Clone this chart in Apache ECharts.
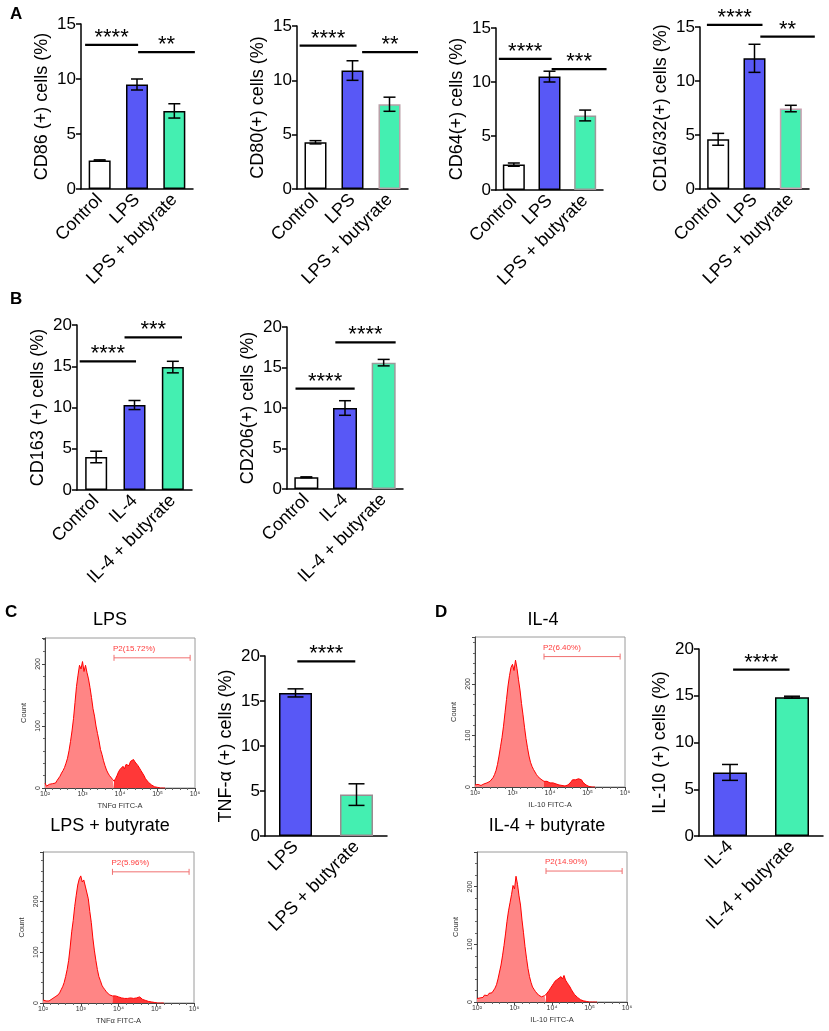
<!DOCTYPE html>
<html>
<head>
<meta charset="utf-8">
<script src="https://cdn.jsdelivr.net/npm/echarts@6/dist/echarts.min.js"></script>
<style>
  html, body { margin: 0; padding: 0; background: #fff; }
  #main { width: 829px; height: 1031px; }
</style>
</head>
<body>
<div id="main"></div>
<script>
// groups
var lpsGroups = ['Control', 'LPS', 'LPS + butyrate'];
var il4Groups = ['Control', 'IL-4', 'IL-4 + butyrate'];
var tnfGroups = ['LPS', 'LPS + butyrate'];
var il10Groups = ['IL-4', 'IL-4 + butyrate'];

// bar means and error (SEM)
var cd86Mean = [2.6, 9.5, 7.1];      var cd86Err = [0.05, 0.5, 0.65];
var cd80Mean = [4.3, 10.9, 7.8];     var cd80Err = [0.15, 0.9, 0.65];
var cd64Mean = [2.35, 10.5, 6.9];    var cd64Err = [0.15, 0.5, 0.5];
var cd1632Mean = [4.6, 12.1, 7.45];  var cd1632Err = [0.55, 1.3, 0.3];
var cd163Mean = [4.0, 10.3, 14.9];   var cd163Err = [0.7, 0.55, 0.7];
var cd206Mean = [1.45, 10.0, 15.6];  var cd206Err = [0.05, 0.9, 0.4];
var tnfMean = [15.9, 4.6];           var tnfErr = [0.45, 1.2];
var il10Mean = [6.8, 14.85];         var il10Err = [0.85, 0.1];

// significance bars: [from, to (category units), height, stars]
var cd86Sig = [[-0.39, 1.03, 13.1, '****'], [1.03, 2.55, 12.45, '**']];
var cd80Sig = [[-0.43, 1.11, 13.2, '****'], [1.26, 2.77, 12.6, '**']];
var cd64Sig = [[-0.42, 1.06, 12.15, '****'], [1.06, 2.6, 11.2, '***']];
var cd1632Sig = [[-0.31, 1.22, 15.2, '****'], [1.16, 2.66, 14.1, '**']];
var cd163Sig = [[-0.43, 1.04, 15.6, '****'], [0.74, 2.24, 18.5, '***']];
var cd206Sig = [[-0.28, 1.25, 12.4, '****'], [0.75, 2.31, 18.1, '****']];
var tnfSig = [[0.03, 0.98, 19.4, '****']];
var il10Sig = [[0.05, 0.96, 17.8, '****']];

// flow histograms: counts per bin, bins start at 10^2, step 0.04 decade
var HIST_START = 2, HIST_STEP = 0.04;
var GATE_LO = 3.84, GATE_HI = 5.87;
var histLps = [
  8, 3, 4, 6, 4, 7, 9, 8, 12, 15,
  19, 24, 28, 33, 40, 48, 60, 75, 92, 112,
  138, 164, 182, 198, 192, 204, 188, 198, 186, 176,
  162, 146, 128, 116, 100, 88, 76, 62, 54, 44,
  36, 29, 24, 20, 17, 14, 11, 15, 20, 26,
  30, 33, 35, 31, 38, 40, 36, 43, 40, 46,
  42, 44, 36, 32, 28, 24, 20, 15, 12, 9,
  6, 5, 3, 2, 2, 1, 1, 0, 0, 0,
  0];
var histLpsBut = [
  6, 3, 4, 5, 4, 6, 8, 10, 12, 14,
  16, 20, 26, 32, 40, 52, 66, 84, 110, 140,
  162, 190, 212, 232, 244, 250, 238, 242, 230, 228,
  205, 180, 158, 128, 104, 84, 66, 52, 44, 35,
  30, 26, 22, 20, 16, 18, 14, 12, 14, 11,
  12, 9, 10, 8, 9, 7, 9, 8, 10, 7,
  9, 8, 10, 9, 12, 10, 7, 6, 5, 4,
  3, 2, 2, 1, 1, 0, 0, 0, 0, 0,
  0];
var histIl4 = [
  4, 3, 5, 4, 3, 5, 6, 5, 8, 10,
  11, 14, 18, 24, 32, 44, 60, 78, 96, 118,
  144, 170, 196, 216, 232, 238, 226, 246, 230, 208,
  188, 162, 140, 116, 94, 76, 60, 48, 40, 34,
  29, 24, 20, 17, 15, 13, 11, 10, 11, 9,
  8, 7, 8, 6, 6, 5, 4, 4, 3, 3,
  2, 3, 4, 6, 10, 14, 17, 14, 12, 16,
  13, 14, 9, 6, 4, 2, 1, 0, 0, 0,
  0];
var histIl4But = [
  6, 5, 7, 9, 8, 12, 14, 11, 15, 14,
  16, 18, 24, 30, 40, 52, 64, 80, 98, 118,
  140, 158, 172, 186, 202, 196, 218, 204, 184, 168,
  142, 120, 96, 76, 58, 44, 34, 26, 22, 18,
  15, 12, 11, 9, 10, 11, 13, 16, 20, 24,
  28, 32, 36, 34, 40, 38, 44, 40, 46, 38,
  34, 30, 26, 21, 17, 13, 10, 8, 6, 4,
  3, 2, 1, 1, 0, 0, 0, 0, 0, 0,
  0];

var FONT = 'Arial, "Liberation Sans", sans-serif';
var WHITE = '#ffffff', BLUE = '#5858f6', GREEN = '#44efb1';

var barPanels = [
  { box: [81, 24, 112, 165], cats: lpsGroups, mean: cd86Mean, err: cd86Err, sig: cd86Sig, max: 15, yName: 'CD86 (+) cells (%)', bw: 22, cap: 12, colors: [WHITE, BLUE, GREEN], edge: '#000' },
  { box: [297, 26, 111, 163], cats: lpsGroups, mean: cd80Mean, err: cd80Err, sig: cd80Sig, max: 15, yName: 'CD80(+) cells (%)', bw: 22, cap: 12, colors: [WHITE, BLUE, GREEN], edge: '#b9a0a8' },
  { box: [496, 28, 107, 162], cats: lpsGroups, mean: cd64Mean, err: cd64Err, sig: cd64Sig, max: 15, yName: 'CD64(+) cells (%)', bw: 22, cap: 12, colors: [WHITE, BLUE, GREEN], edge: '#9a9a9a' },
  { box: [700, 27, 109, 162], cats: lpsGroups, mean: cd1632Mean, err: cd1632Err, sig: cd1632Sig, max: 15, yName: 'CD16/32(+) cells (%)', bw: 22, cap: 12, colors: [WHITE, BLUE, GREEN], edge: '#c8a0b0' },
  { box: [77, 325, 115, 165], cats: il4Groups, mean: cd163Mean, err: cd163Err, sig: cd163Sig, max: 20, yName: 'CD163 (+) cells (%)', bw: 22, cap: 12, colors: [WHITE, BLUE, GREEN], edge: '#000' },
  { box: [287, 327, 116, 162], cats: il4Groups, mean: cd206Mean, err: cd206Err, sig: cd206Sig, max: 20, yName: 'CD206(+) cells (%)', bw: 24, cap: 12, colors: [WHITE, BLUE, GREEN], edge: '#9a9a9a' },
  { box: [265, 656, 122, 180], cats: tnfGroups, mean: tnfMean, err: tnfErr, sig: tnfSig, max: 20, yName: 'TNF-α (+) cells (%)', bw: 33, cap: 16, colors: [BLUE, GREEN], edge: '#9a8a90' },
  { box: [699, 649, 124, 187], cats: il10Groups, mean: il10Mean, err: il10Err, sig: il10Sig, max: 20, yName: 'IL-10 (+) cells (%)', bw: 34, cap: 16, colors: [BLUE, GREEN], edge: '#000' }
];

var histPanels = [
  { box: [45, 638, 150, 150], counts: histLps, ymax: 242, xName: 'TNFα FITC-A', gateY: 210, gateText: 'P2(15.72%)' },
  { box: [43, 852, 151, 151], counts: histLpsBut, ymax: 297, xName: 'TNFα FITC-A', gateY: 258, gateText: 'P2(5.96%)' },
  { box: [475, 637, 150, 150], counts: histIl4, ymax: 291, xName: 'IL-10 FITC-A', gateY: 253, gateText: 'P2(6.40%)' },
  { box: [477, 852, 150, 150], counts: histIl4But, ymax: 260, xName: 'IL-10 FITC-A', gateY: 227, gateText: 'P2(14.90%)' }
];

var sup = { 2: '²', 3: '³', 4: '⁴', 5: '⁵', 6: '⁶' };

var grids = [], xAxes = [], yAxes = [], series = [];

barPanels.forEach(function (p) {
  var gi = grids.length;
  grids.push({ left: p.box[0], top: p.box[1], width: p.box[2], height: p.box[3], outerBoundsMode: 'none' });
  xAxes.push({
    gridIndex: gi, type: 'category', data: p.cats,
    axisLine: { lineStyle: { color: '#000', width: 1.5 } },
    axisTick: { alignWithLabel: true, length: 5, lineStyle: { color: '#000', width: 1.5 } },
    axisLabel: { rotate: 45, interval: 0, fontSize: 18, color: '#000', margin: 8, fontFamily: FONT },
    splitLine: { show: false }
  });
  yAxes.push({
    gridIndex: gi, type: 'value', min: 0, max: p.max, interval: 5,
    axisLine: { show: true, lineStyle: { color: '#000', width: 1.5 } },
    axisTick: { show: true, length: 5, lineStyle: { color: '#000', width: 1.5 } },
    axisLabel: { fontSize: 17, color: '#000', margin: 5, fontFamily: FONT },
    splitLine: { show: false },
    name: p.yName, nameLocation: 'middle', nameGap: 30,
    nameTextStyle: { fontSize: 18, color: '#000', fontFamily: FONT }
  });
  series.push({
    type: 'bar', xAxisIndex: gi, yAxisIndex: gi, barWidth: p.bw, silent: true,
    data: p.mean.map(function (v, i) {
      var last = i === p.mean.length - 1;
      return { value: v, itemStyle: { color: p.colors[i], borderColor: last ? p.edge : '#000', borderWidth: 1.5 } };
    })
  });
  series.push({
    type: 'custom', xAxisIndex: gi, yAxisIndex: gi, silent: true, z: 5,
    encode: { x: 0, y: 1 },
    data: p.mean.map(function (v, i) { return [i, v, p.err[i]]; }),
    renderItem: function (params, api) {
      var x = api.value(0), m = api.value(1), e = api.value(2);
      var top = api.coord([x, m + e]), bot = api.coord([x, m - e]);
      var w = p.cap / 2;
      var st = { stroke: '#000', lineWidth: 1.5 };
      return {
        type: 'group', children: [
          { type: 'line', shape: { x1: top[0], y1: top[1], x2: bot[0], y2: bot[1] }, style: st },
          { type: 'line', shape: { x1: top[0] - w, y1: top[1], x2: top[0] + w, y2: top[1] }, style: st },
          { type: 'line', shape: { x1: bot[0] - w, y1: bot[1], x2: bot[0] + w, y2: bot[1] }, style: st }
        ]
      };
    }
  });
  series.push({
    type: 'custom', xAxisIndex: gi, yAxisIndex: gi, silent: true, z: 6,
    encode: { x: 0, y: 1 },
    data: p.sig.map(function (s) { return [0, s[2]]; }),
    renderItem: function (params, api) {
      var s = p.sig[params.dataIndex];
      var c0 = api.coord([0, s[2]]);
      var band = api.size([1, 0])[0];
      var xa = c0[0] + s[0] * band, xb = c0[0] + s[1] * band;
      return {
        type: 'group', children: [
          { type: 'line', shape: { x1: xa, y1: c0[1], x2: xb, y2: c0[1] }, style: { stroke: '#000', lineWidth: 2.2 } },
          { type: 'text', x: (xa + xb) / 2, y: c0[1] + 4, style: { text: s[3], fill: '#000', fontSize: 22, fontFamily: FONT, align: 'center', verticalAlign: 'bottom' } }
        ]
      };
    }
  });
});

var gateIdx = Math.round((GATE_LO - HIST_START) / HIST_STEP);

function histPoints(counts, from, to) {
  var pts = [];
  for (var i = from; i <= to; i++) pts.push([HIST_START + i * HIST_STEP, counts[i]]);
  return pts;
}

histPanels.forEach(function (h) {
  var gi = grids.length;
  grids.push({ left: h.box[0], top: h.box[1], width: h.box[2], height: h.box[3], show: true, borderColor: '#9a9a9a', borderWidth: 1, outerBoundsMode: 'none' });
  xAxes.push({
    gridIndex: gi, type: 'value', min: 2, max: 6, interval: 1,
    axisLine: { lineStyle: { color: '#444', width: 1 } },
    axisTick: { length: 3, lineStyle: { color: '#444' } },
    minorTick: { show: true, splitNumber: 5, length: 2, lineStyle: { color: '#666' } },
    axisLabel: { fontSize: 7, color: '#333', margin: 3, fontFamily: FONT, formatter: function (v) { return '10' + sup[v]; } },
    splitLine: { show: false },
    name: h.xName, nameLocation: 'middle', nameGap: 14,
    nameTextStyle: { fontSize: 7.5, color: '#333', fontFamily: FONT }
  });
  yAxes.push({
    gridIndex: gi, type: 'value', min: 0, max: h.ymax, interval: 100,
    axisLine: { show: true, lineStyle: { color: '#444', width: 1 } },
    axisTick: { show: true, length: 3, lineStyle: { color: '#444' } },
    minorTick: { show: true, splitNumber: 5, length: 2, lineStyle: { color: '#666' } },
    axisLabel: { rotate: 90, fontSize: 7, color: '#333', margin: 3, showMaxLabel: false, fontFamily: FONT },
    splitLine: { show: false },
    name: 'Count', nameLocation: 'middle', nameGap: 17,
    nameTextStyle: { fontSize: 7.5, color: '#333', fontFamily: FONT }
  });
  series.push({
    type: 'line', xAxisIndex: gi, yAxisIndex: gi, symbol: 'none', silent: true,
    data: histPoints(h.counts, 0, gateIdx),
    lineStyle: { color: '#ff0000', width: 1 },
    areaStyle: { color: '#ff8585', opacity: 1 }
  });
  series.push({
    type: 'line', xAxisIndex: gi, yAxisIndex: gi, symbol: 'none', silent: true,
    data: histPoints(h.counts, gateIdx, h.counts.length - 1),
    lineStyle: { color: '#ff0000', width: 1 },
    areaStyle: { color: '#ff3838', opacity: 1 }
  });
  series.push({
    type: 'custom', xAxisIndex: gi, yAxisIndex: gi, silent: true, z: 6,
    encode: { x: 0, y: 1 },
    data: [[GATE_LO, h.gateY]],
    renderItem: function (params, api) {
      var a = api.coord([GATE_LO, h.gateY]), b = api.coord([GATE_HI, h.gateY]);
      var st = { stroke: '#f07070', lineWidth: 1 };
      return {
        type: 'group', children: [
          { type: 'line', shape: { x1: a[0], y1: a[1], x2: b[0], y2: b[1] }, style: st },
          { type: 'line', shape: { x1: a[0], y1: a[1] - 3, x2: a[0], y2: a[1] + 3 }, style: st },
          { type: 'line', shape: { x1: b[0], y1: b[1] - 3, x2: b[0], y2: b[1] + 3 }, style: st },
          { type: 'text', x: a[0] - 1, y: a[1] - 5, style: { text: h.gateText, fill: '#ff3c3c', fontSize: 8, fontFamily: FONT, align: 'left', verticalAlign: 'bottom' } }
        ]
      };
    }
  });
});

function label(text, x, y, size, bold, align) {
  return {
    type: 'text', x: x, y: y, silent: true,
    style: { text: text, fill: '#000', fontSize: size, fontWeight: bold ? 'bold' : 'normal', fontFamily: FONT, align: align || 'left', verticalAlign: 'top' }
  };
}

var option = {
  animation: false,
  backgroundColor: '#ffffff',
  textStyle: { fontFamily: FONT },
  grid: grids,
  xAxis: xAxes,
  yAxis: yAxes,
  series: series,
  graphic: [
    label('A', 10, 6, 17, true),
    label('B', 10, 291, 17, true),
    label('C', 5, 604, 17, true),
    label('D', 435, 604, 17, true),
    label('LPS', 110, 611, 18, false, 'center'),
    label('LPS + butyrate', 110, 817, 18, false, 'center'),
    label('IL-4', 543, 611, 18, false, 'center'),
    label('IL-4 + butyrate', 547, 817, 18, false, 'center')
  ]
};

var chart = echarts.init(document.getElementById('main'));
chart.setOption(option);
</script>
</body>
</html>
